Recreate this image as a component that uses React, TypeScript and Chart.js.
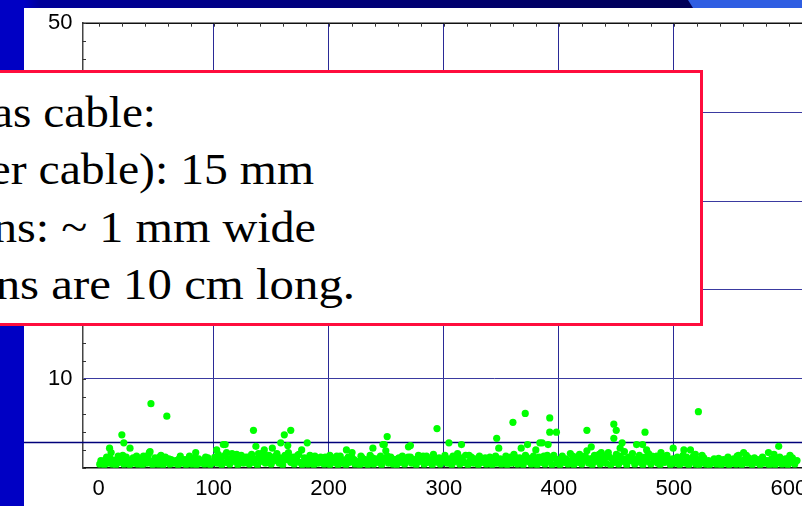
import React, { useEffect, useRef } from 'react';
import { Chart, registerables } from 'chart.js';

Chart.register(...registerables);

// Axis ticks
const xTickValues = [0, 100, 200, 300, 400, 500, 600, 700];
const xLabelledTicks = [0, 100, 200, 300, 400, 500, 600];
const xGridValues = [100, 200, 300, 400, 500];
const yTickValues = [0, 10, 20, 30, 40, 50];
const yLabelledTicks = [10, 20, 30, 40, 50];
const yGridValues = [10, 20, 30, 40];
const xMinorStep = 20;
const yMinorStep = 2;
const xMin = -14;
const xMax = 701;
const yMin = 0;
const yMax = 50;
const thresholdValue = 2.85;

// Text box lines (left part cut off in the reference)
const noteLines = ['as cable:', 'er cable): 15 mm', 'ns: ~ 1 mm wide', 'ns are 10 cm long.'];

// Data: [event, width]
const bandA: [number, number][] = [
  [1, 0.4], [3, 0.6], [5, 0.3], [6, 0.9], [8, 0.5], [10, 1.1], [12, 0.4], [13, 0.8], [15, 0.3], [17, 1.3],
  [18, 0.6], [20, 0.9], [22, 0.4], [24, 1.2], [25, 0.7], [27, 0.3], [29, 0.9], [31, 0.5], [33, 1.3], [34, 0.4],
  [36, 0.8], [38, 0.3], [40, 1.0], [42, 0.5], [43, 1.4], [46, 0.6], [47, 0.3], [49, 1.1], [51, 0.7], [52, 0.4],
  [55, 0.9], [56, 0.3], [58, 1.2], [60, 0.6], [62, 0.4], [63, 0.9], [65, 0.5], [67, 0.8], [69, 0.3], [70, 1.0],
  [72, 0.5], [74, 0.7], [76, 0.3], [78, 0.9], [79, 1.3], [81, 0.4], [83, 0.7], [85, 0.3], [87, 1.0], [88, 0.5],
  [90, 0.8], [92, 0.4], [94, 0.6], [95, 1.1], [97, 0.3], [99, 0.7],
];
const bandB: [number, number][] = [
  [101, 1.2], [103, 0.5], [104, 1.5], [106, 0.8], [107, 0.3], [109, 1.3], [111, 0.6], [113, 1.0], [114, 0.4], [116, 1.6],
  [118, 0.7], [119, 1.1], [121, 0.3], [123, 0.9], [124, 1.4], [126, 0.5], [128, 1.2], [129, 0.8], [131, 0.4], [133, 1.5],
  [135, 0.6], [136, 1.0], [138, 0.3], [140, 1.3], [141, 0.7], [143, 1.7], [145, 0.5], [146, 1.0], [148, 1.4], [150, 0.4],
  [152, 1.2], [153, 0.8], [155, 1.6], [157, 0.5], [158, 1.1], [160, 0.3], [162, 1.4], [163, 0.9], [165, 1.7], [167, 0.6],
  [169, 1.2], [170, 0.4], [172, 1.0], [174, 1.5], [175, 0.6], [177, 0.3], [179, 1.1], [180, 0.8], [182, 0.4], [184, 1.3],
  [186, 0.7], [187, 0.3], [189, 1.0], [191, 0.5], [193, 1.2], [194, 0.8], [196, 0.4], [198, 1.0], [199, 0.6],
];
const bandC: [number, number][] = [
  [201, 0.3], [203, 1.1], [205, 0.6], [206, 0.9], [208, 0.3], [210, 1.3], [212, 0.5], [213, 0.8], [215, 0.3], [217, 1.2],
  [218, 0.6], [222, 0.9], [223, 0.4], [225, 0.7], [227, 0.3], [229, 1.1], [230, 0.5], [232, 0.9], [234, 0.3], [236, 1.4],
  [237, 0.7], [239, 0.4], [241, 1.0], [243, 0.6], [245, 1.3], [246, 0.3], [250, 0.8], [252, 0.5], [254, 1.2], [256, 0.4],
  [257, 0.9], [259, 0.3], [261, 1.1], [262, 0.6], [264, 1.3], [266, 0.4], [268, 0.8], [271, 1.2], [272, 0.5], [274, 0.9],
  [276, 0.3], [278, 1.4], [279, 0.7], [281, 1.0], [283, 0.4], [285, 1.3], [286, 0.6], [288, 0.9], [290, 0.3], [291, 1.5],
  [293, 0.7], [296, 1.1], [297, 0.4], [299, 0.8],
];
const bandD: [number, number][] = [
  [301, 1.4], [303, 0.5], [305, 1.0], [307, 0.3], [308, 1.3], [310, 0.7], [312, 1.6], [314, 0.4], [316, 1.1], [317, 0.6],
  [319, 1.4], [321, 0.3], [323, 0.8], [324, 1.2], [326, 0.5], [328, 0.9], [330, 0.3], [331, 1.3], [333, 0.6], [335, 1.0],
  [337, 0.4], [339, 0.7], [340, 1.2], [342, 0.3], [344, 0.8], [346, 0.5], [349, 1.0], [350, 0.4], [352, 0.7], [354, 1.3],
  [355, 0.3], [357, 0.9], [359, 0.5], [361, 1.5], [362, 0.8], [364, 0.4], [366, 1.1], [368, 0.6], [369, 0.3], [371, 1.4],
  [373, 0.7], [375, 1.0], [376, 0.4], [378, 1.3], [379, 0.8], [381, 0.3], [383, 1.2], [385, 0.6], [386, 1.0], [388, 0.4],
  [390, 1.4], [392, 0.7], [394, 0.3], [396, 1.1], [398, 0.5], [399, 0.9],
];
const bandE: [number, number][] = [
  [401, 0.3], [403, 1.3], [405, 0.6], [406, 1.0], [408, 0.4], [410, 1.6], [411, 0.8], [413, 0.3], [415, 1.2], [417, 0.6],
  [418, 1.5], [420, 0.4], [422, 0.9], [423, 1.3], [426, 0.5], [427, 1.0], [429, 0.3], [431, 1.4], [432, 0.7], [434, 1.1],
  [436, 0.4], [438, 0.8], [440, 1.3], [441, 0.5], [443, 1.7], [445, 0.3], [446, 1.0], [448, 0.6], [450, 1.5], [452, 0.4],
  [454, 1.1], [456, 0.7], [457, 1.8], [459, 0.3], [461, 1.2], [462, 0.8], [464, 1.6], [466, 0.4], [468, 1.0], [470, 1.4],
  [471, 0.6], [473, 0.3], [475, 1.2], [477, 0.7], [478, 1.6], [480, 0.4], [483, 0.9], [485, 1.3], [486, 0.5], [488, 0.3],
  [490, 1.1], [492, 0.6], [494, 1.4], [495, 0.8], [497, 0.3], [499, 1.0],
];
const bandF: [number, number][] = [
  [501, 0.5], [503, 1.2], [505, 0.3], [506, 0.8], [508, 1.4], [510, 0.5], [512, 1.0], [513, 0.3], [515, 0.7], [517, 1.3],
  [519, 0.4], [521, 0.9], [522, 0.3], [524, 0.6], [526, 1.1], [528, 0.4], [530, 0.8], [531, 0.3], [533, 0.6], [535, 1.0],
  [537, 0.4], [539, 0.7], [541, 0.3], [543, 0.9], [545, 0.5], [547, 1.2], [548, 0.3], [550, 0.7], [552, 1.0], [554, 0.4],
  [555, 1.3], [557, 0.6], [559, 0.3], [561, 0.9], [563, 1.4], [564, 0.5], [566, 0.8], [568, 0.3], [570, 1.1], [572, 0.6],
  [573, 0.9], [575, 0.3], [577, 1.2], [579, 0.5], [581, 0.8], [583, 0.3], [585, 1.0], [586, 0.6], [588, 0.3], [590, 0.9],
  [592, 1.2], [594, 0.4], [596, 0.7], [597, 1.0], [599, 0.3], [601, 0.6], [603, 1.1], [605, 0.4], [607, 0.8],
];
const bandG: [number, number][] = [
  [2, 0.8], [7, 1.2], [11, 0.6], [16, 0.9], [21, 1.4], [26, 0.5], [30, 1.1], [35, 0.7], [39, 1.3], [44, 0.8],
  [48, 0.5], [53, 1.2], [57, 0.7], [61, 1.0], [66, 0.6], [71, 1.3], [75, 0.9], [80, 0.6], [84, 1.1], [89, 0.8],
  [93, 1.2], [98, 0.5], [102, 0.9], [105, 1.1], [110, 1.4], [115, 0.8], [120, 1.5], [125, 0.9], [130, 1.2], [134, 0.8],
  [139, 1.6], [144, 1.1], [149, 0.7], [154, 1.3], [159, 0.9], [164, 1.2], [168, 0.8], [173, 1.4], [178, 0.6], [183, 1.0],
  [188, 1.3], [192, 0.7], [197, 1.2], [202, 0.8], [207, 1.3], [211, 0.7], [216, 1.0], [220, 1.2], [224, 0.6], [228, 1.3],
  [233, 0.8], [238, 1.1], [242, 0.7], [247, 1.0], [251, 1.3], [255, 0.7], [260, 1.0], [265, 0.8], [269, 1.2], [273, 0.6],
  [277, 1.0], [282, 1.3], [287, 0.8], [292, 1.1], [295, 0.6], [300, 1.0], [304, 0.8], [309, 1.1], [313, 0.9], [318, 0.6],
  [322, 1.4], [327, 1.0], [332, 0.7], [336, 1.1], [341, 0.9], [345, 1.3], [348, 0.7], [353, 1.0], [358, 1.2], [363, 1.1],
  [367, 0.9], [372, 1.2], [377, 0.7], [382, 1.0], [387, 1.3], [391, 0.9], [395, 1.2], [400, 0.8], [404, 1.0], [409, 0.7],
  [412, 1.3], [416, 0.9], [421, 1.2], [425, 0.8], [430, 1.1], [435, 1.5], [439, 1.0], [444, 1.2], [449, 0.9], [453, 1.3],
  [458, 1.0], [463, 1.2], [467, 0.8], [472, 1.1], [476, 0.9], [481, 1.3], [484, 0.7], [489, 1.0], [493, 1.2], [498, 0.7],
  [502, 1.0], [507, 0.6], [511, 1.2], [516, 0.8], [520, 0.6], [525, 0.9], [529, 0.5], [534, 0.8], [538, 0.5], [542, 0.7],
  [546, 0.9], [551, 0.5], [556, 0.8], [560, 0.6], [565, 1.1], [569, 0.7], [574, 0.5], [578, 0.9], [582, 0.6], [587, 1.0],
  [591, 0.6], [595, 0.9], [600, 1.1], [604, 0.7],
];
const outliers: [number, number][] = [
  [9.5, 2.2], [10.9, 1.7], [20.2, 3.7], [21.9, 2.8], [27.3, 2.2], [31.1, 1.05], [44.1, 1.7], [44.7, 1.8], [45.5, 7.2],
  [54.2, 1.4], [59.3, 5.8], [84.4, 1.7], [102.6, 2.0], [108.4, 2.6], [110, 2.6], [111.2, 1.7], [134.6, 4.2], [136.7, 2.4],
  [144, 2.0], [151, 2.2], [158.3, 2.8], [161.4, 3.7], [164.4, 2.5], [167, 4.2], [176.5, 2.0], [181.3, 2.8], [183.7, 1.4],
  [201, 1.4], [215.4, 2.0], [220.3, 1.7], [238.4, 2.2], [247.1, 2.6], [248.3, 2.6], [249.6, 1.9], [250.8, 3.5],
  [269.3, 2.35], [271, 2.5], [294.1, 4.4], [304.5, 2.8], [315.4, 2.6], [346, 3.3], [347.8, 2.2], [360.1, 5.1],
  [367.3, 2.2], [370.8, 6.1], [372.8, 2.6], [380, 2.0], [383.5, 2.8], [385.5, 2.8], [390.7, 2.6], [392.1, 5.6],
  [392.1, 4.0], [395.6, 1.4], [397.9, 4.0], [424.4, 4.2], [424.4, 1.9], [428.2, 2.35], [436.9, 1.7], [442.6, 1.4],
  [447.8, 4.9], [449.9, 4.2], [447.8, 3.3], [453.3, 2.2], [455, 2.8], [467.6, 2.6], [472.8, 2.6], [474.9, 4.0],
  [476.3, 2.0], [481.5, 1.2], [488.8, 1.7], [499.4, 2.2], [508.7, 2.0], [514.4, 2.0], [518.7, 1.5], [521.3, 6.3],
  [524.5, 1.4], [538.9, 1.05], [556.2, 1.4], [560.6, 1.7], [582.2, 1.7], [587, 1.5], [591.1, 2.4], [600.9, 1.4],
];

const SLIDE_LEFT_BAR = 24;

const decorPlugin = {
  id: 'decor',
  beforeDatasetsDraw(chart: any) {
    const { ctx, chartArea: a, scales } = chart;
    const x = scales.x;
    const y = scales.y;
    ctx.save();
    // slide rule line
    const ty = Math.round(y.getPixelForValue(thresholdValue)) + 0.5;
    ctx.strokeStyle = '#00007a';
    ctx.lineWidth = 1.5;
    ctx.beginPath();
    ctx.moveTo(SLIDE_LEFT_BAR, ty);
    ctx.lineTo(chart.width, ty);
    ctx.stroke();
    // top frame line
    ctx.strokeStyle = '#111';
    ctx.lineWidth = 1.5;
    ctx.beginPath();
    ctx.moveTo(a.left, a.top);
    ctx.lineTo(a.right, a.top);
    ctx.stroke();
    // minor ticks
    ctx.lineWidth = 1;
    ctx.strokeStyle = '#333';
    ctx.beginPath();
    for (let v = 0; v <= xMax; v += xMinorStep) {
      const px = Math.round(x.getPixelForValue(v)) + 0.5;
      ctx.moveTo(px, a.top);
      ctx.lineTo(px, a.top + 3.5);
      ctx.moveTo(px, a.bottom);
      ctx.lineTo(px, a.bottom - 3.5);
    }
    for (let v = yMin; v <= yMax; v += yMinorStep) {
      const py = Math.round(y.getPixelForValue(v)) + 0.5;
      ctx.moveTo(a.left, py);
      ctx.lineTo(a.left + 3.5, py);
    }
    ctx.stroke();
    ctx.restore();
  },
};

export default function App() {
  const ref = useRef<HTMLCanvasElement | null>(null);

  useEffect(() => {
    if (!ref.current) return;
    const points = [...bandA, ...bandB, ...bandC, ...bandD, ...bandE, ...bandF, ...bandG, ...outliers].map(([x, y]) => ({ x, y }));
    const chart = new Chart(ref.current, {
      type: 'scatter',
      data: {
        datasets: [
          {
            data: points,
            backgroundColor: '#00ff00',
            borderColor: '#00ff00',
            borderWidth: 0,
            pointRadius: 3.6,
            pointHoverRadius: 3.6,
          },
        ],
      },
      options: {
        animation: false,
        responsive: false,
        maintainAspectRatio: false,
        events: [],
        layout: { padding: { top: 20.5, right: 0, left: 0, bottom: 0 } },
        plugins: { legend: { display: false }, tooltip: { enabled: false } },
        scales: {
          x: {
            type: 'linear',
            min: xMin,
            max: xMax,
            afterBuildTicks: (s: any) => {
              s.ticks = xTickValues.map((v) => ({ value: v }));
            },
            afterFit: (s: any) => {
              s.height = 38.3;
            },
            grid: {
              drawTicks: false,
              lineWidth: 1,
              color: (c: any) => (xGridValues.includes(c.tick?.value) ? '#2a2a96' : 'rgba(0,0,0,0)'),
            },
            border: { display: true, color: '#111', width: 1.5 },
            ticks: {
              autoSkip: false,
              maxRotation: 0,
              minRotation: 0,
              padding: 8,
              color: '#000',
              font: { family: '"Liberation Sans", Arial, sans-serif', size: 22 },
              callback: (v: any) => (xLabelledTicks.includes(v) ? String(v) : ''),
            },
          },
          y: {
            type: 'linear',
            min: yMin,
            max: yMax,
            afterBuildTicks: (s: any) => {
              s.ticks = yTickValues.map((v) => ({ value: v }));
            },
            afterFit: (s: any) => {
              s.width = 82.5;
            },
            grid: {
              drawTicks: false,
              lineWidth: 1,
              color: (c: any) => (yGridValues.includes(c.tick?.value) ? '#3a3aa0' : 'rgba(0,0,0,0)'),
            },
            border: { display: true, color: '#444', width: 1.5 },
            ticks: {
              padding: 10,
              color: '#000',
              font: { family: '"Liberation Sans", Arial, sans-serif', size: 22 },
              callback: (v: any) => (yLabelledTicks.includes(v) ? String(v) : ''),
            },
          },
        },
      },
      plugins: [decorPlugin],
    });
    return () => chart.destroy();
  }, []);

  const lineEnds = [155.5, 314, 316, 355];
  const lineTops = [89.8, 146.8, 204.6, 262.3];
  const lineStretch = [1.05, 1.06, 1.07, 1.085];

  return (
    <div
      style={{
        position: 'fixed',
        left: 0,
        top: 0,
        width: 802,
        height: 506,
        overflow: 'hidden',
        background: '#fff',
      }}
    >
      <div style={{ position: 'absolute', left: 0, top: 0, width: SLIDE_LEFT_BAR, height: 506, background: '#0000c4' }} />
      <div
        style={{
          position: 'absolute',
          left: 0,
          top: 0,
          width: 802,
          height: 8,
          background: 'linear-gradient(to right, #0000c4 0px, #0000c4 24px, #00009a 40px, #000074 400px, #000056 690px)',
        }}
      />
      <div
        style={{
          position: 'absolute',
          left: 686,
          top: 0,
          width: 116,
          height: 8,
          background: '#2f5ee2',
          clipPath: 'polygon(2px 0, 100% 0, 100% 100%, 7px 100%)',
        }}
      />
      <canvas
        ref={ref}
        width={912}
        height={506}
        style={{ position: 'absolute', left: 0, top: 0, width: 912, height: 506, display: 'block' }}
      />
      <div
        style={{
          position: 'absolute',
          left: -20,
          top: 70,
          width: 722.7,
          height: 256,
          boxSizing: 'border-box',
          border: '3px solid #ff0d3d',
          background: '#fff',
        }}
      />
      {noteLines.map((t, i) => (
        <div
          key={i}
          style={{
            position: 'absolute',
            left: lineEnds[i] - 600,
            top: lineTops[i],
            width: 600,
            textAlign: 'right',
            whiteSpace: 'nowrap',
            fontFamily: '"Liberation Serif", "Times New Roman", serif',
            fontSize: 45,
            lineHeight: '45px',
            color: '#000',
            transform: `scaleX(${lineStretch[i]})`,
            transformOrigin: 'right center',
          }}
        >
          {t}
        </div>
      ))}
    </div>
  );
}
